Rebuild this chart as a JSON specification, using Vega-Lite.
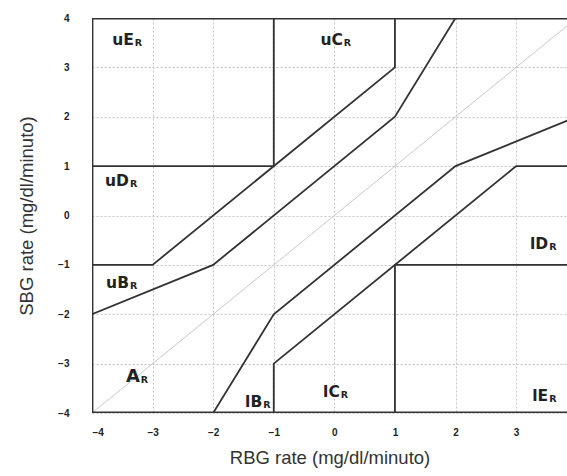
{
  "$schema": "https://vega.github.io/schema/vega-lite/v6.json",
  "autosize": "none",
  "padding": {"left": 92, "top": 18, "right": 0, "bottom": 63},
  "width": 475,
  "height": 395,
  "background": "white",
  "config": {
    "view": {"stroke": null},
    "font": "Liberation Sans"
  },
  "datasets": {
    "lines": [
      {"line": "border", "ord": 1, "x": 4, "y": 4},
      {"line": "border", "ord": 2, "x": -4, "y": 4},
      {"line": "border", "ord": 3, "x": -4, "y": -4},
      {"line": "border", "ord": 4, "x": 4, "y": -4},
      {"line": "uE", "ord": 1, "x": -4, "y": 1},
      {"line": "uE", "ord": 2, "x": -1, "y": 1},
      {"line": "uE", "ord": 3, "x": -1, "y": 4},
      {"line": "upA", "ord": 1, "x": -4, "y": -1},
      {"line": "upA", "ord": 2, "x": -3, "y": -1},
      {"line": "upA", "ord": 3, "x": 1, "y": 3},
      {"line": "upA", "ord": 4, "x": 1, "y": 4},
      {"line": "upB", "ord": 1, "x": -4, "y": -2},
      {"line": "upB", "ord": 2, "x": -2, "y": -1},
      {"line": "upB", "ord": 3, "x": 1, "y": 2},
      {"line": "upB", "ord": 4, "x": 2, "y": 4},
      {"line": "loB", "ord": 1, "x": -2, "y": -4},
      {"line": "loB", "ord": 2, "x": -1, "y": -2},
      {"line": "loB", "ord": 3, "x": 2, "y": 1},
      {"line": "loB", "ord": 4, "x": 4, "y": 2},
      {"line": "loA", "ord": 1, "x": -1, "y": -4},
      {"line": "loA", "ord": 2, "x": -1, "y": -3},
      {"line": "loA", "ord": 3, "x": 3, "y": 1},
      {"line": "loA", "ord": 4, "x": 4, "y": 1},
      {"line": "lD", "ord": 1, "x": 4, "y": -1},
      {"line": "lD", "ord": 2, "x": 1, "y": -1},
      {"line": "lD", "ord": 3, "x": 1, "y": -4},
      {"line": "ident", "ord": 1, "x": -4, "y": -4},
      {"line": "ident", "ord": 2, "x": 4, "y": 4}
    ],
    "labels": [
      {"main": "uE", "sub": "R", "x": -3.31, "y": 3.56},
      {"main": "uC", "sub": "R", "x": 0.14, "y": 3.56},
      {"main": "uD", "sub": "R", "x": -3.39, "y": 0.7},
      {"main": "uB", "sub": "R", "x": -3.39, "y": -1.36},
      {"main": "A", "sub": "R", "x": -3.21, "y": -3.27},
      {"main": "lB", "sub": "R", "x": -1.19, "y": -3.77},
      {"main": "lC", "sub": "R", "x": 0.09, "y": -3.57},
      {"main": "lE", "sub": "R", "x": 3.53, "y": -3.65},
      {"main": "lD", "sub": "R", "x": 3.53, "y": -0.57}
    ]
  },
  "encoding": {
    "x": {
      "field": "x", "type": "quantitative",
      "scale": {"domain": [-4, 3.84], "nice": false, "zero": false},
      "axis": {
        "title": "RBG rate (mg/dl/minuto)",
        "values": [-4, -3, -2, -1, 0, 1, 2, 3],
        "grid": true, "gridColor": "#c4c4c4", "gridDash": [2, 2], "gridWidth": 1,
        "domain": false, "ticks": false,
        "labelFontWeight": "bold", "labelFontSize": 10, "labelColor": "#222",
        "labelPadding": 14,
        "titleFontWeight": "normal", "titleFontSize": 18.5, "titleColor": "#333",
        "titlePadding": 11
      }
    },
    "y": {
      "field": "y", "type": "quantitative",
      "scale": {"domain": [-4, 4], "nice": false, "zero": false},
      "axis": {
        "title": "SBG rate (mg/dl/minuto)",
        "values": [-4, -3, -2, -1, 0, 1, 2, 3, 4],
        "grid": true, "gridColor": "#c4c4c4", "gridDash": [2, 2], "gridWidth": 1,
        "domain": false, "ticks": false,
        "labelFontWeight": "bold", "labelFontSize": 10, "labelColor": "#222",
        "labelPadding": 23,
        "titleFontWeight": "normal", "titleFontSize": 18.5, "titleColor": "#333",
        "titlePadding": 21
      }
    }
  },
  "layer": [
    {
      "data": {"name": "lines"},
      "transform": [{"filter": "datum.line === 'ident'"}],
      "mark": {"type": "line", "color": "#c8c8c8", "strokeWidth": 1, "clip": true},
      "encoding": {"detail": {"field": "line"}, "order": {"field": "ord"}}
    },
    {
      "data": {"name": "lines"},
      "transform": [{"filter": "datum.line !== 'ident' && datum.line !== 'border'"}],
      "mark": {"type": "line", "color": "#333", "strokeWidth": 1.8, "clip": true},
      "encoding": {"detail": {"field": "line"}, "order": {"field": "ord"}}
    },
    {
      "data": {"name": "lines"},
      "transform": [{"filter": "datum.line === 'border'"}],
      "mark": {"type": "line", "color": "#333", "strokeWidth": 2.8, "clip": true},
      "encoding": {"detail": {"field": "line"}, "order": {"field": "ord"}}
    },
    {
      "data": {"name": "labels"},
      "transform": [{"filter": "datum.main !== 'A'"}],
      "mark": {"type": "text", "align": "right", "baseline": "middle", "font": "DejaVu Sans", "fontSize": 15.5, "fontWeight": "bold", "color": "#222"},
      "encoding": {"text": {"field": "main"}}
    },
    {
      "data": {"name": "labels"},
      "transform": [{"filter": "datum.main === 'A'"}],
      "mark": {"type": "text", "align": "right", "baseline": "middle", "font": "DejaVu Sans", "fontSize": 18, "fontWeight": "bold", "color": "#222"},
      "encoding": {"text": {"field": "main"}}
    },
    {
      "data": {"name": "labels"},
      "mark": {"type": "text", "align": "left", "baseline": "middle", "font": "DejaVu Sans", "fontSize": 9.5, "fontWeight": "bold", "color": "#222", "dx": 1, "dy": 3},
      "encoding": {"text": {"field": "sub"}}
    }
  ]
}
